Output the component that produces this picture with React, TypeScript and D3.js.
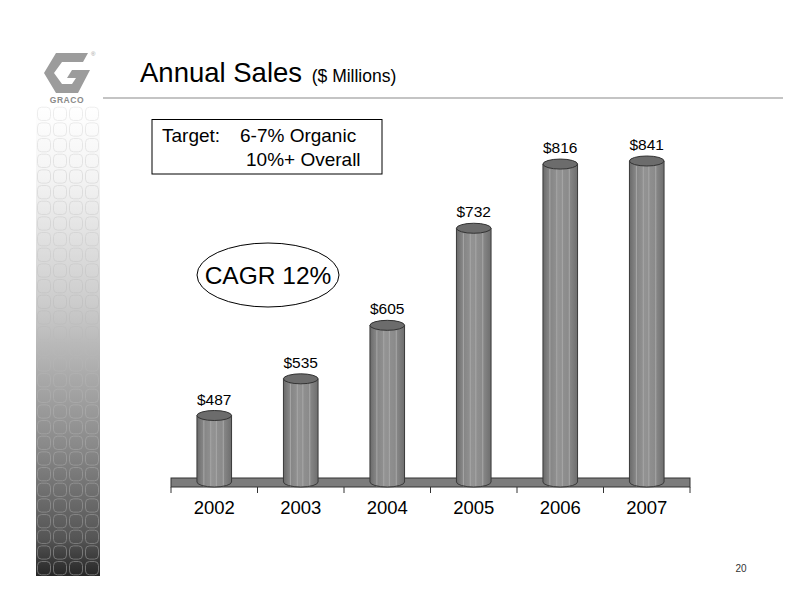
import React from "react";
import * as d3 from "d3";

const years = ["2002", "2003", "2004", "2005", "2006", "2007"];
const sales = [487, 535, 605, 732, 816, 841];
const salesLabels = ["$487", "$535", "$605", "$732", "$816", "$841"];
const targetLines = ["6-7% Organic", "10%+ Overall"];

const W = 792;
const H = 612;
const FONT = "Liberation Sans, Arial, Helvetica, sans-serif";

export default function App() {
  const x = d3.scaleBand<string>().domain(years).range([171, 690]).paddingInner(0.6).paddingOuter(0.3);
  const y = d3.scaleLinear().domain([400, 820]).range([482, 161]).clamp(true);
  const step = x.step();
  const bw = x.bandwidth();
  const base = y(400);
  const ry = 5;

  const stripX = 36, stripY = 106, stripW = 64, stripH = 470;
  const cols = d3.range(4);
  const rows = d3.range(30);
  const cw = stripW / 4;
  const ch = stripH / 30;

  const stripes = [0.2, 0.4, 0.56, 0.76];

  return (
    <svg width={W} height={H} style={{ position: "absolute", left: 0, top: 0, background: "#fff" }} fontFamily={FONT}>
      <defs>
        <linearGradient id="strip" x1="0" y1="0" x2="0" y2="1">
          <stop offset="0" stopColor="#ffffff" />
          <stop offset="0.15" stopColor="#f4f4f4" />
          <stop offset="0.42" stopColor="#cccccc" />
          <stop offset="0.72" stopColor="#8a8a8a" />
          <stop offset="0.92" stopColor="#555555" />
          <stop offset="1" stopColor="#262626" />
        </linearGradient>
        <linearGradient id="cellStroke" gradientUnits="userSpaceOnUse" x1="0" y1={stripY} x2="0" y2={stripY + stripH}>
          <stop offset="0" stopColor="#eeeeee" />
          <stop offset="0.3" stopColor="#d2d2d2" />
          <stop offset="0.7" stopColor="#a0a0a0" />
          <stop offset="1" stopColor="#707070" />
        </linearGradient>
        <linearGradient id="cyl" x1="0" y1="0" x2="1" y2="0">
          <stop offset="0" stopColor="#6a6a6a" />
          <stop offset="0.15" stopColor="#828282" />
          <stop offset="0.45" stopColor="#939393" />
          <stop offset="0.75" stopColor="#8a8a8a" />
          <stop offset="1" stopColor="#6e6e6e" />
        </linearGradient>
      </defs>

      {/* left decorative strip */}
      <rect x={stripX} y={stripY} width={stripW} height={stripH} fill="url(#strip)" />
      {rows.map((r) =>
        cols.map((c) => (
          <rect
            key={`c${r}-${c}`}
            x={stripX + c * cw + 1.5}
            y={stripY + r * ch + 1.2}
            width={cw - 3}
            height={ch - 2.4}
            rx={4}
            fill="none"
            stroke="url(#cellStroke)"
            strokeWidth={1}
          />
        ))
      )}

      {/* logo */}
      <polygon
        points="56,53 88,53 83,62 62,62 54,73 62,84 72,84 76,78 67,78 72,70 90,70 78,93 56,93 44,73"
        fill="#9c9c9c"
      />
      <text x={91} y={56} fontSize={6} fill="#999">®</text>
      <text x={67} y={103} fontSize={8.5} fontWeight="bold" fill="#8a8a8a" textAnchor="middle" letterSpacing={0.6}>GRACO</text>

      {/* title */}
      <text x={140} y={82} fontSize={27.5} fill="#000">
        Annual Sales <tspan fontSize={17.5} dx={2}>($ Millions)</tspan>
      </text>
      <line x1={103} x2={783} y1={98} y2={98} stroke="#b0b0b0" strokeWidth={1.5} />

      {/* target box */}
      <rect x={152} y={119.5} width={230} height={54.5} fill="#fff" stroke="#000" strokeWidth={1} />
      <text x={162} y={142} fontSize={19} fill="#000">Target:</text>
      <text x={240} y={142} fontSize={19} fill="#000">{targetLines[0]}</text>
      <text x={246} y={166} fontSize={19} fill="#000">{targetLines[1]}</text>

      {/* CAGR ellipse */}
      <ellipse cx={268} cy={275} rx={71} ry={32} fill="#fff" stroke="#000" strokeWidth={1} />
      <text x={268} y={284} fontSize={24.5} textAnchor="middle" fill="#000">CAGR 12%</text>

      {/* floor */}
      <rect x={171} y={base - 4} width={519} height={9} fill="#7c7c7c" stroke="#333" strokeWidth={1} />
      {d3.range(years.length + 1).map((i) => (
        <line key={`t${i}`} x1={171 + i * step} x2={171 + i * step} y1={base + 5} y2={base + 11} stroke="#333" strokeWidth={1} />
      ))}

      {/* cylinders */}
      {years.map((yr, i) => {
        const x0 = x(yr)!;
        const cx = x0 + bw / 2;
        const top = y(sales[i]);
        const bot = base;
        const body = `M${x0},${top} L${x0},${bot} A${bw / 2},${ry} 0 0 0 ${x0 + bw},${bot} L${x0 + bw},${top} Z`;
        return (
          <g key={yr}>
            <path d={body} fill="url(#cyl)" />
            {stripes.map((f, k) => (
              <line key={k} x1={x0 + bw * f} x2={x0 + bw * f} y1={top + ry} y2={bot + ry - 0.5} stroke="#a8a8a8" strokeWidth={1} />
            ))}
            <path d={body} fill="none" stroke="#3a3a3a" strokeWidth={1} />
            <ellipse cx={cx} cy={top} rx={bw / 2} ry={ry} fill="#6c6c6c" stroke="#333" strokeWidth={1} />
            <text x={cx} y={top - 11} fontSize={15.5} textAnchor="middle" fill="#000">{salesLabels[i]}</text>
            <text x={cx} y={514} fontSize={18.5} textAnchor="middle" fill="#000">{yr}</text>
          </g>
        );
      })}

      {/* page number */}
      <text x={741} y={572} fontSize={10} textAnchor="middle" fill="#333">20</text>
    </svg>
  );
}
